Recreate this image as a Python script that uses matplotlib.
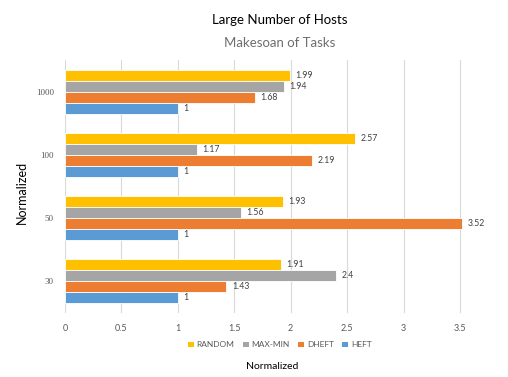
import matplotlib
matplotlib.use("Agg")
import matplotlib.pyplot as plt
import numpy as np
from matplotlib.patches import Patch

categories = ["1000", "100", "50", "30"]
series_names = ["RANDOM", "MAX-MIN", "DHEFT", "HEFT"]
random_vals = [1.99, 2.57, 1.93, 1.91]
maxmin_vals = [1.94, 1.17, 1.56, 2.4]
dheft_vals = [1.68, 2.19, 3.52, 1.43]
heft_vals = [1, 1, 1, 1]
x_ticks = [0, 0.5, 1, 1.5, 2, 2.5, 3, 3.5]
x_tick_labels = ["0", "0.5", "1", "1.5", "2", "2.5", "3", "3.5"]

colors = ["#FFC000", "#A5A5A5", "#ED7D31", "#5B9BD5"]
series = [random_vals, maxmin_vals, dheft_vals, heft_vals]

plt.rcParams["font.family"] = ["Lato", "DejaVu Sans"]

fig = plt.figure(figsize=(5.08, 3.77), dpi=100)
ax = fig.add_axes([0.128, 0.170, 0.833, 0.671])

n = len(categories)
centers = np.arange(n)[::-1]  # first category at the top
bar_h = 0.174
offsets = np.array([-1.5, -0.5, 0.5, 1.5]) * bar_h

for vals, col, off in zip(series, colors, offsets):
    ys = centers - off
    ax.barh(ys, vals, height=bar_h, color=col, edgecolor="white", linewidth=0.6, zorder=3)
    for y, v in zip(ys, vals):
        ax.text(v + 0.05, y, f"{v:g}", va="center", ha="left",
                fontsize=6.3, color="#404040", zorder=4)

ax.set_xlim(0, 3.75)
ax.set_ylim(-0.5, n - 0.5)
ax.set_xticks(x_ticks)
ax.set_xticklabels(x_tick_labels, fontsize=6.5, color="#595959")
ax.set_yticks(centers)
ax.set_yticklabels(categories, fontsize=6.5, color="#595959",
                   family=["Liberation Serif", "DejaVu Serif"])
ax.tick_params(axis="both", length=0, pad=8)
ax.grid(axis="x", color="#D9D9D9", linewidth=0.8, zorder=0)
for s in ax.spines.values():
    s.set_visible(False)

fig.text(0.551, 0.948, "Large Number of Hosts", ha="center", va="center",
         fontsize=9.5, color="#000000")
fig.text(0.551, 0.886, "Makesoan of Tasks", ha="center", va="center",
         fontsize=9.5, color="#6E6E6E")

fig.text(0.043, 0.49, "Normalized", rotation=90, ha="center", va="center",
         fontsize=9, color="#000000")
fig.text(0.536, 0.027, "Normalized", ha="center", va="center",
         fontsize=7.5, color="#000000")

handles = [Patch(facecolor=c, edgecolor="none") for c in colors]
fig.legend(handles, series_names, loc="center", bbox_to_anchor=(0.551, 0.085),
           ncol=4, frameon=False, fontsize=6, handlelength=0.7, handleheight=0.7,
           handletextpad=0.35, columnspacing=1.0, labelcolor="#595959")

fig.savefig("out.png", dpi=100, facecolor="white")
